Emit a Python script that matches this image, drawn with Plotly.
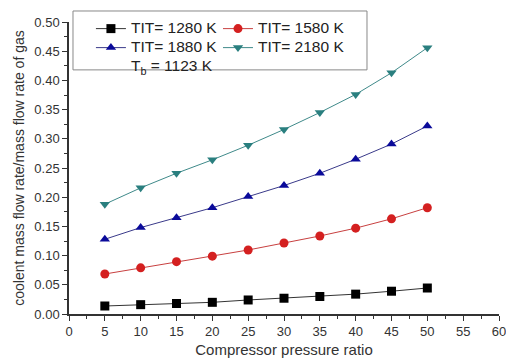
import plotly.graph_objects as go

pressure_ratio = [5, 10, 15, 20, 25, 30, 35, 40, 45, 50]
tit_1280 = [0.0137, 0.016, 0.018, 0.020, 0.024, 0.027, 0.030, 0.034, 0.039, 0.0445]
tit_1580 = [0.0685, 0.079, 0.0896, 0.099, 0.1096, 0.1216, 0.1336, 0.147, 0.163, 0.182]
tit_1880 = [0.128, 0.148, 0.165, 0.182, 0.201, 0.220, 0.241, 0.265, 0.291, 0.322]
tit_2180 = [0.188, 0.216, 0.241, 0.264, 0.289, 0.316, 0.345, 0.376, 0.413, 0.456]

series_names = ["TIT= 1280 K", "TIT= 1580 K", "TIT= 1880 K", "TIT= 2180 K"]
series_values = [tit_1280, tit_1580, tit_1880, tit_2180]
marker_colors = ["#000000", "#d42020", "#0a0a9a", "#2a7f7f"]
line_colors = ["#333333", "#c84040", "#3a3a8a", "#3f8a8a"]
symbols = ["square", "circle", "triangle-up", "triangle-down"]
legend_ids = ["legend", "legend2", "legend", "legend2"]
tb_label = "T<sub>b</sub> = 1123 K"

def big(txt):
    return '<span style="font-size:15.5px">' + txt + "</span>"

fig = go.Figure()
for name, vals, mc, lc, sym, lg in zip(series_names, series_values, marker_colors,
                                        line_colors, symbols, legend_ids):
    fig.add_trace(go.Scatter(
        x=pressure_ratio, y=vals, name=big(name), mode="lines+markers",
        line=dict(color=lc, width=1),
        marker=dict(symbol=sym, color=mc, size=9, line=dict(width=0)),
        legend=lg,
    ))

fig.add_trace(go.Scatter(
    x=[None], y=[None], name=big(tb_label), mode="lines",
    line=dict(width=0, color="rgba(0,0,0,0)"), legend="legend",
))

axis_common = dict(
    showline=True, linecolor="#333333", linewidth=1.5,
    ticks="outside", ticklen=5, tickwidth=1.2, tickcolor="#333333",
    showgrid=False, zeroline=False, automargin=False,
    ticklabeloverflow="allow",
    tickfont=dict(family="Liberation Sans, Arial", size=13, color="#333333"),
    mirror=False,
)

fig.update_xaxes(
    range=[0, 60], dtick=5, tick0=0,
    minor=dict(dtick=2.5, ticks="outside", ticklen=3, tickcolor="#333333", showgrid=False),
    title=dict(text="Compressor pressure ratio",
               font=dict(family="Liberation Sans, Arial", size=15, color="#333333"),
               standoff=6),
    **axis_common,
)
fig.update_yaxes(
    range=[0, 0.5], dtick=0.05, tick0=0, tickformat=".2f",
    minor=dict(dtick=0.025, ticks="outside", ticklen=3, tickcolor="#333333", showgrid=False),
    title=dict(text="coolent mass flow rate/mass flow rate of gas",
               font=dict(family="Liberation Sans, Arial", size=14, color="#333333"),
               standoff=6),
    **axis_common,
)

legend_common = dict(
    orientation="v", yanchor="top", xanchor="left",
    bgcolor="rgba(0,0,0,0)", borderwidth=0,
    font=dict(family="Liberation Sans, Arial", size=12, color="#222222"),
    itemwidth=30, tracegroupgap=0,
)

fig.update_layout(
    width=506, height=359,
    margin=dict(l=69, r=7, t=22, b=45, autoexpand=False),
    paper_bgcolor="white", plot_bgcolor="white",
    font=dict(family="Liberation Sans, Arial", color="#222222"),
    showlegend=True,
    legend=dict(x=0.051, y=1.027, **legend_common),
    legend2=dict(x=0.3465, y=1.027, **legend_common),
    shapes=[dict(type="rect", xref="paper", yref="paper",
                 x0=0.0093, x1=0.693, y0=0.836, y1=1.0377,
                 line=dict(color="#888888", width=1), fillcolor="white", layer="below")],
)

fig.write_html("out.html", config={"displayModeBar": False},
               post_script="document.body.style.margin='0';")
